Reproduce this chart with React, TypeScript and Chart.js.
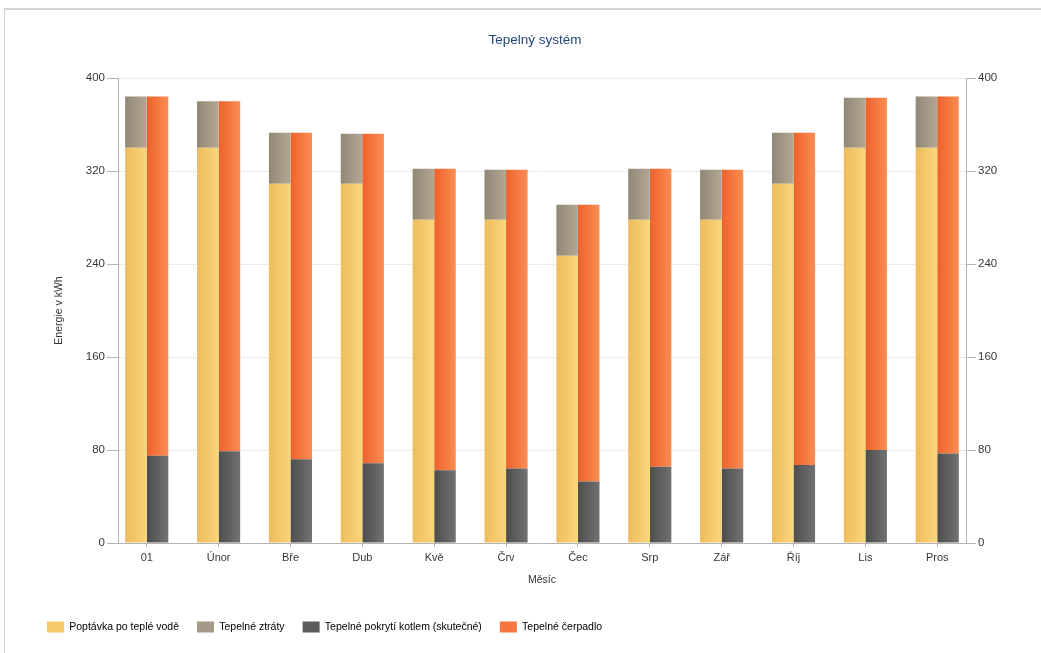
import React, { useEffect, useRef } from 'react';
import { Chart, registerables } from 'chart.js';

Chart.register(...registerables);

const months = ['01', 'Únor', 'Bře', 'Dub', 'Kvě', 'Črv', 'Čec', 'Srp', 'Zář', 'Říj', 'Lis', 'Pros'];
const poptavka = [340, 340, 309, 309, 278, 278, 247, 278, 278, 309, 340, 340];
const ztraty = [44, 40, 44, 43, 44, 43, 44, 44, 43, 44, 43, 44];
const kotel = [75, 79, 72, 68.5, 62.5, 64, 53, 65.5, 64, 67, 80, 77];
const cerpadlo = [309, 301, 281, 283.5, 259.5, 257, 238, 256.5, 257, 286, 303, 307];
const yMin = 0;
const yMax = 400;
const yStep = 80;

const FONT = "'Liberation Sans', Arial, sans-serif";
const CAT_PCT = 0.6;

function gradFill(from: string, to: string, side: 'left' | 'right') {
  return (ctx: any) => {
    const chart = ctx.chart;
    const xs = chart.scales && chart.scales.x;
    if (!xs || !chart.chartArea || ctx.type !== 'data') return to;
    const c = xs.getPixelForValue(ctx.dataIndex);
    const cw = Math.abs(xs.getPixelForValue(1) - xs.getPixelForValue(0));
    const bw = (cw * CAT_PCT) / 2;
    const x0 = side === 'left' ? c - bw : c;
    const g = chart.ctx.createLinearGradient(x0, 0, x0 + bw, 0);
    g.addColorStop(0, from);
    g.addColorStop(1, to);
    return g;
  };
}

const solid = ['#f3c96c', '#a39986', '#5c5c5c', '#f5773f'];

export default function App() {
  const ref = useRef<HTMLCanvasElement>(null);

  useEffect(() => {
    if (!ref.current) return;
    const chart = new Chart(ref.current, {
      type: 'bar',
      data: {
        labels: months,
        datasets: [
          { label: 'Poptávka po teplé vodě', data: poptavka, stack: 'a', backgroundColor: gradFill('#edbc5d', '#f9d67b', 'left') },
          { label: 'Tepelné ztráty', data: ztraty, stack: 'a', backgroundColor: gradFill('#918775', '#b2a894', 'left') },
          { label: 'Tepelné pokrytí kotlem (skutečné)', data: kotel, stack: 'b', backgroundColor: gradFill('#4d4d4d', '#727272', 'right') },
          { label: 'Tepelné čerpadlo', data: cerpadlo, stack: 'b', backgroundColor: gradFill('#ee612b', '#fb8e53', 'right') },
        ],
      },
      options: {
        animation: false,
        responsive: true,
        maintainAspectRatio: false,
        datasets: { bar: { categoryPercentage: CAT_PCT, barPercentage: 1.0, borderWidth: 0 } },
        layout: { padding: { left: 29, right: 0, top: 0, bottom: 10.5 } },
        font: { family: FONT },
        plugins: {
          title: {
            display: true,
            text: 'Tepelný systém',
            color: '#1f477f',
            font: { family: FONT, size: 13.5, weight: 'normal' },
            padding: { top: 32.5, bottom: 29.3 },
          },
          legend: {
            position: 'bottom',
            align: 'start',
            labels: {
              boxWidth: 17,
              boxHeight: 11,
              padding: 18,
              color: '#333',
              font: { family: FONT, size: 10.5 },
              generateLabels: (ch: any) =>
                ch.data.datasets.map((ds: any, i: number) => ({
                  text: ds.label,
                  fillStyle: solid[i],
                  strokeStyle: solid[i],
                  lineWidth: 0,
                  datasetIndex: i,
                  hidden: false,
                })),
            },
          },
          tooltip: { enabled: false },
        },
        scales: {
          x: {
            stacked: true,
            offset: true,
            afterBuildTicks: (scale: any) => {
              scale._startValue = -0.4;
              scale._valueRange = months.length - 0.2;
            },
            afterFit: (scale: any) => {
              scale.height = 60.5;
            },
            grid: { display: true, drawOnChartArea: false, drawTicks: true, tickLength: 4, offset: false, color: '#b4b4b4' },
            border: { display: true, color: '#b4b4b4' },
            ticks: { color: '#383838', font: { family: FONT, size: 11 }, padding: 4, maxRotation: 0, autoSkip: false },
            title: { display: true, text: 'Měsíc', color: '#333', font: { family: FONT, size: 10.5 }, padding: { top: 0, bottom: 17.2 } },
          },
          y: {
            stacked: true,
            position: 'left',
            min: yMin,
            max: yMax,
            afterFit: (scale: any) => {
              scale.width = 89;
            },
            ticks: { stepSize: yStep, color: '#383838', font: { family: FONT, size: 11.5 }, padding: 2 },
            grid: { color: '#ececec', tickLength: 11, drawTicks: true, tickColor: '#b4b4b4' },
            border: { display: true, color: '#b4b4b4' },
            title: { display: true, text: 'Energie v kWh', color: '#333', font: { family: FONT, size: 10.5 }, padding: { top: 23.5, bottom: 0 } },
          },
          y2: {
            position: 'right',
            min: yMin,
            max: yMax,
            afterFit: (scale: any) => {
              scale.width = 75;
            },
            ticks: { stepSize: yStep, color: '#383838', font: { family: FONT, size: 11.5 }, padding: 2 },
            grid: { drawOnChartArea: false, tickLength: 10, color: '#b4b4b4' },
            border: { display: true, color: '#b4b4b4' },
          },
        },
      } as any,
    });
    return () => chart.destroy();
  }, []);

  return (
    <div style={{ position: 'fixed', left: 0, top: 0, width: 1041, height: 653, background: '#fff', overflow: 'hidden' }}>
      <div
        style={{
          position: 'absolute',
          left: 4,
          top: 8,
          width: 1037,
          height: 645,
          borderLeft: '1px solid #cfcfcf',
          borderTop: '2px solid #d6d6d6',
          boxSizing: 'border-box',
        }}
      />
      <div style={{ position: 'absolute', left: 0, top: 0, width: 1041, height: 653 }}>
        <canvas ref={ref} />
      </div>
    </div>
  );
}
